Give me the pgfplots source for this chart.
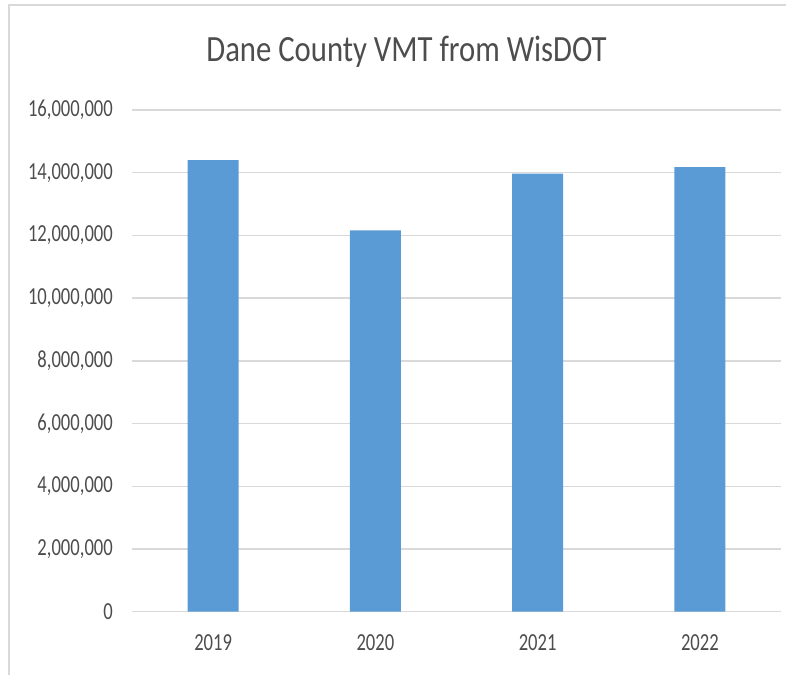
\documentclass[border=0pt]{standalone}
\usepackage{fontspec}
\setmainfont{Carlito}[FakeStretch=0.76]
\newfontfamily\titlefont{Carlito}[FakeStretch=0.83]
\usepackage{pgfplots}
\pgfplotsset{compat=1.18}
\definecolor{barblue}{HTML}{5B9BD5}
\definecolor{gridgray}{HTML}{D9D9D9}
\definecolor{txtgray}{HTML}{4D4D4D}
\pgfplotstableread{
x year value
0 2019 14400000
1 2020 12160000
2 2021 13970000
3 2022 14180000
}\vmt
\begin{document}
\begin{tikzpicture}[x=1pt,y=1pt]
\path[use as bounding box] (0,0) rectangle (786,675);
\draw[gridgray, line width=2pt] (9,0) -- (9,670) -- (786,670);
\node[anchor=base, text=txtgray, inner sep=0pt, font=\titlefont\fontsize{37}{40}\selectfont] at (406.5,613) {Dane County VMT from WisDOT};
\begin{axis}[
  at={(132pt,63.3pt)}, anchor=south west,
  scale only axis, width=649pt, height=501.7pt,
  xmin=-0.5, xmax=3.5, ymin=0, ymax=16000000,
  axis line style={draw=none},
  axis x line*=bottom,
  axis y line*=left,
  major tick length=0pt,
  xtick={0,1,2,3}, xticklabels={2019,2020,2021,2022},
  ytick={0,2000000,4000000,6000000,8000000,10000000,12000000,14000000,16000000},
  yticklabels={0,{2,000,000},{4,000,000},{6,000,000},{8,000,000},{10,000,000},{12,000,000},{14,000,000},{16,000,000}},
  scaled y ticks=false,
  ymajorgrids, grid style={gridgray, line width=1.5pt},
  tick label style={text=txtgray, font=\fontsize{24.5}{28}\selectfont, inner sep=0pt},
  xticklabel style={anchor=north, yshift=-23pt},
  yticklabel style={anchor=east, xshift=-19pt},
  /pgf/number format/assume math mode=true,
]
\addplot[ybar, bar width=51pt, fill=barblue, draw=none] table[x=x, y=value] {\vmt};
\end{axis}
\end{tikzpicture}
\end{document}
